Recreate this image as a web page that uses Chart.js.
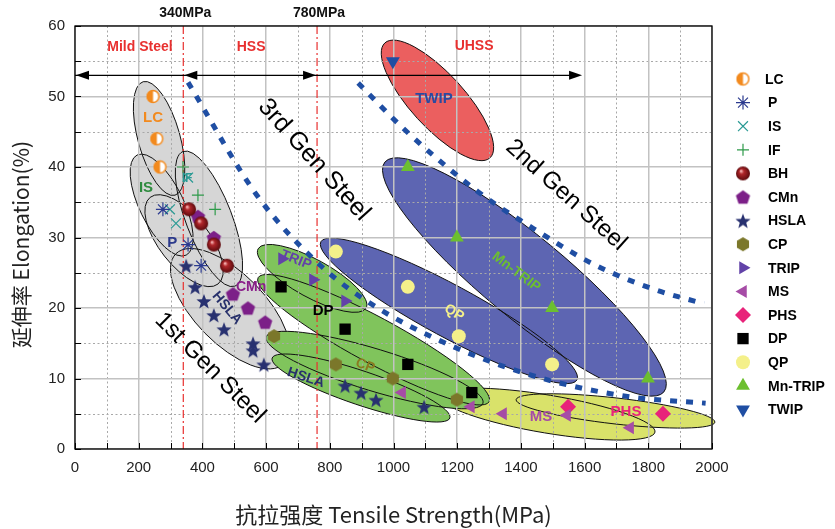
<!DOCTYPE html>
<html>
<head>
<meta charset="utf-8">
<script src="https://cdn.jsdelivr.net/npm/chart.js@4.4.0/dist/chart.umd.min.js"></script>
<style>
body{margin:0;background:#fff}
#wrap{width:835px;height:529px;position:relative}
</style>
</head>
<body>
<div id="wrap"><canvas id="c"></canvas></div>
<script>
// ---- data (MPa, %) ----
const lcX=[245,257,267],            lcY=[50,44,40];
const pX=[276,355,396],             pY=[34,29,26];
const isX=[298,317,355],            isY=[34,32,38.5];
const ifX=[339,386,440],            ifY=[40,36,34];
const bhX=[358,396,436,477],        bhY=[34,32,29,26];
const cmnX=[386,436,496,543,597],   cmnY=[33,30,22,20,18];
const hslaX=[349,377,405,436,468,559,559,593,848,898,945,1096];
const hslaY=[26,23,21,19,17,15,14,12,9,8,7,6];
const cpX=[625,819,998,1199],       cpY=[16,12,10,7];
const tripX=[650,747,848],          tripY=[27,24,21];
const msX=[1027,1243,1344,1545,1743], msY=[8,6,5,4.8,3];
const phsX=[1548,1846],             phsY=[6,5];
const dpX=[647,848,1045,1246],      dpY=[23,17,12,8];
const qpX=[819,1045,1205,1498],     qpY=[28,23,16,12];
const mntX=[1045,1199,1498,1799],   mntY=[40,30,20,10];
const twipX=[998],                  twipY=[55];

// boundary curves (blue dashed)
const gen3X=[355,571,769,936,1199,1460,1743,1980];
const gen3Y=[52,36,26.1,20.4,14.3,10.1,7.4,6.5];
const gen2X=[889,1042,1265,1438,1633,1821,1975];
const gen2Y=[51.9,45,36.5,31.3,26.1,22.6,20.6];

// class boundaries
const limitX=[340,760];
const limitLabels=['340MPa','780MPa'];

const pts=(xs,ys)=>xs.map((x,i)=>({x:x,y:ys[i]}));

// ---- property regions: major axis ends (data) + half width (px) ----
const GRAY='#d6d6d6', GREEN='#80c45c', BLUE='#5d65b2', RED='#eb5f5f', YEL='#d9e26a';
const regions=[
 [YEL,[[1146,7.5,1821,2.4,19],[1385,7.0,2009,3.8,13]]],
 [BLUE,[[772,29.4,1576,9.8,26],[973,40.7,1849,8.1,41]]],
 [RED,[[973,57.6,1303,41.3,27]]],
 [GRAY,[[214,52.1,314,36.0,21],[195,41.7,349,27.5,22],[236,35.7,449,23.4,25],[339,42.2,502,23.1,23],[317,27.7,656,12.1,35]]],
 [GREEN,[[575,28.4,914,20.0,19],[575,24.3,1300,6.7,23],[600,15.9,1281,6.5,21],[619,12.9,1177,4.4,17]]]
];

// ---- custom markers ----
function mk(r,draw){
 const s=Math.ceil(r*2+4), cv=document.createElement('canvas');
 cv.width=s; cv.height=s;
 draw(cv.getContext('2d'),s/2,s/2,r);
 return cv;
}
function poly(g,x,y,r,n,rot){
 g.beginPath();
 for(let i=0;i<n;i++){const a=rot+i*2*Math.PI/n; g.lineTo(x+r*Math.cos(a),y+r*Math.sin(a));}
 g.closePath();
}
const imgLC=mk(6.5,(g,x,y,r)=>{
 g.fillStyle='#fff'; g.beginPath(); g.arc(x,y,r,0,Math.PI*2); g.fill();
 g.fillStyle='#f28a1e'; g.beginPath(); g.arc(x,y,r,Math.PI/2,Math.PI*1.5); g.closePath(); g.fill();
 g.strokeStyle='#f28a1e'; g.lineWidth=1.5; g.beginPath(); g.arc(x,y,r-0.6,0,Math.PI*2); g.stroke();
});
const imgBH=mk(7,(g,x,y,r)=>{
 const gr=g.createRadialGradient(x-2,y-2.5,0.5,x,y,r);
 gr.addColorStop(0,'#f4b0b0'); gr.addColorStop(0.3,'#b0262a'); gr.addColorStop(1,'#5c0a0d');
 g.fillStyle=gr; g.beginPath(); g.arc(x,y,r,0,Math.PI*2); g.fill();
});
const imgCMn=mk(7.5,(g,x,y,r)=>{g.fillStyle='#7c1f88'; poly(g,x,y+0.8,r,5,-Math.PI/2); g.fill();});
const imgCP=mk(7,(g,x,y,r)=>{g.fillStyle='#7b772a'; poly(g,x,y,r,6,Math.PI/6); g.fill();});
const imgStar=mk(8,(g,x,y,r)=>{
 g.fillStyle='#283170'; g.beginPath();
 for(let i=0;i<10;i++){const a=-Math.PI/2+i*Math.PI/5, rr=i%2?r*0.42:r; g.lineTo(x+rr*Math.cos(a),y+1+rr*Math.sin(a));}
 g.closePath(); g.fill();
});

const scat=(label,xs,ys,o)=>Object.assign({label:label,data:pts(xs,ys),borderWidth:0,pointHoverRadius:7,order:0},o);
const datasets=[
 {type:'line',label:'_gen3',data:pts(gen3X,gen3Y),borderColor:'#1f4ea3',borderWidth:5,borderDash:[7,9],pointRadius:0,cubicInterpolationMode:'monotone',fill:false,order:10},
 {type:'line',label:'_gen2',data:pts(gen2X,gen2Y),borderColor:'#1f4ea3',borderWidth:5,borderDash:[7,9],pointRadius:0,cubicInterpolationMode:'monotone',fill:false,order:10},
 scat('LC',lcX,lcY,{pointStyle:imgLC,pointRadius:7}),
 scat('P',pX,pY,{pointStyle:'star',pointRadius:7,borderColor:'#2b3a8f',borderWidth:1.2}),
 scat('IS',isX,isY,{pointStyle:'crossRot',pointRadius:7,borderColor:'#2a9a94',borderWidth:1.2}),
 scat('IF',ifX,ifY,{pointStyle:'cross',pointRadius:6,borderColor:'#2e9a4a',borderWidth:1.2}),
 scat('BH',bhX,bhY,{pointStyle:imgBH,pointRadius:7}),
 scat('CMn',cmnX,cmnY,{pointStyle:imgCMn,pointRadius:7}),
 scat('HSLA',hslaX,hslaY,{pointStyle:imgStar,pointRadius:8}),
 scat('CP',cpX,cpY,{pointStyle:imgCP,pointRadius:7}),
 scat('TRIP',tripX,tripY,{pointStyle:'triangle',pointRotation:90,pointRadius:7.5,backgroundColor:'#6242a8'}),
 scat('MS',msX,msY,{pointStyle:'triangle',pointRotation:-90,pointRadius:7.5,backgroundColor:'#a64ca6'}),
 scat('PHS',phsX,phsY,{pointStyle:'rectRot',pointRadius:8,backgroundColor:'#e8237a'}),
 scat('DP',dpX,dpY,{pointStyle:'rect',pointRadius:8,backgroundColor:'#000'}),
 scat('QP',qpX,qpY,{pointStyle:'circle',pointRadius:7,backgroundColor:'#f4f08a'}),
 scat('Mn-TRIP',mntX,mntY,{pointStyle:'triangle',pointRadius:8,backgroundColor:'#6cbf2f'}),
 scat('TWIP',twipX,twipY,{pointStyle:'triangle',pointRotation:180,pointRadius:8,backgroundColor:'#1f4ea3'})
];

// text labels in data coordinates: text, x, y, size, colour, rotation, bold
const notes=[
 ['LC',245,47,15,'#f28a1e',0,1],['IS',223,37,15,'#2e8b3e',0,1],['IF',352,38.4,12,'#2a9a94',0,1],
 ['P',305,29.2,15,'#2c3a8c',0,1],['CMn',553,23,14,'#8a1f8a',0,1],['HSLA',477,20,14,'#27306b',50,1],
 ['TRIP',694,26.8,14,'#6242a8',22,1],['DP',779,19.6,15,'#000',0,1],['CP',911,11.8,14,'#8a7a20',20,1],
 ['HSLA',725,10.1,14,'#27306b',18,1],['QP',1190,19.3,14,'#f4f08a',32,1],['Mn-TRIP',1385,25.1,14,'#6cbf2f',37,1],
 ['TWIP',1127,49.6,15,'#2a4aa0',0,1],['MS',1463,4.5,15,'#a64ca6',0,1],['PHS',1730,5.2,15,'#e8237a',0,1],
 ['1st Gen Steel',424,11.5,24,'#000',45,0],['3rd Gen Steel',750,41,25,'#000',48,0],['2nd Gen Steel',1542,36,24,'#000',42,0],
 ['Mild Steel',204,57,14,'#e8302f',0,1],['HSS',553,57,14,'#e8302f',0,1],['UHSS',1253,57.1,14,'#e8302f',0,1]
];

function txt(ctx,s,x,y,font,color,rot){
 ctx.save(); ctx.translate(x,y); ctx.rotate((rot||0)*Math.PI/180);
 ctx.font=font; ctx.fillStyle=color; ctx.textAlign='center'; ctx.textBaseline='middle';
 ctx.fillText(s,0,0); ctx.restore();
}
function head(ctx,x,y,dir){
 ctx.beginPath(); ctx.moveTo(x,y); ctx.lineTo(x-dir*13,y-4.5); ctx.lineTo(x-dir*13,y+4.5); ctx.closePath(); ctx.fill();
}

const steelPlugin={
 id:'steel',
 beforeDraw(c){
  const ctx=c.ctx, a=c.chartArea, sx=c.scales.x, sy=c.scales.y;
  ctx.save();
  ctx.fillStyle='#fff'; ctx.fillRect(0,0,c.width,c.height);
  const path=r=>{
   const x1=sx.getPixelForValue(r[0]), y1=sy.getPixelForValue(r[1]);
   const x2=sx.getPixelForValue(r[2]), y2=sy.getPixelForValue(r[3]);
   ctx.beginPath();
   ctx.ellipse((x1+x2)/2,(y1+y2)/2,Math.hypot(x2-x1,y2-y1)/2,r[4],Math.atan2(y2-y1,x2-x1),0,Math.PI*2);
  };
  regions.forEach(([col,list])=>{
   ctx.fillStyle=col; list.forEach(r=>{path(r); ctx.fill();});
   ctx.strokeStyle='#111'; ctx.lineWidth=1; list.forEach(r=>{path(r); ctx.stroke();});
  });
  // minor dotted grid
  ctx.strokeStyle='#a8a8a8'; ctx.lineWidth=1; ctx.setLineDash([2,2.5]);
  for(let v=100;v<2000;v+=200){const x=Math.round(sx.getPixelForValue(v))+0.5; ctx.beginPath(); ctx.moveTo(x,a.top); ctx.lineTo(x,a.bottom); ctx.stroke();}
  for(let v=5;v<60;v+=10){const y=Math.round(sy.getPixelForValue(v))+0.5; ctx.beginPath(); ctx.moveTo(a.left,y); ctx.lineTo(a.right,y); ctx.stroke();}
  ctx.restore();
 },
 beforeDatasetsDraw(c){
  const ctx=c.ctx, a=c.chartArea, sx=c.scales.x, sy=c.scales.y;
  ctx.save();
  // class limits
  ctx.strokeStyle='#e8302f'; ctx.lineWidth=1.2; ctx.setLineDash([8,3,2,3]);
  limitX.forEach(v=>{const x=sx.getPixelForValue(v); ctx.beginPath(); ctx.moveTo(x,a.top); ctx.lineTo(x,a.bottom); ctx.stroke();});
  ctx.setLineDash([]);
  // class arrows
  const ya=sy.getPixelForValue(53), x0=sx.getPixelForValue(0), x1=sx.getPixelForValue(limitX[0]);
  const x2=sx.getPixelForValue(limitX[1]), x3=sx.getPixelForValue(1592);
  ctx.strokeStyle='#000'; ctx.fillStyle='#000'; ctx.lineWidth=1.1;
  ctx.beginPath(); ctx.moveTo(x0,ya); ctx.lineTo(x3-6,ya); ctx.stroke();
  head(ctx,x0+1,ya,-1); head(ctx,x1+1,ya,-1); head(ctx,x2-1,ya,1); head(ctx,x3,ya,1);
  ctx.restore();
 },
 afterDatasetsDraw(c){
  const ctx=c.ctx, a=c.chartArea, sx=c.scales.x, sy=c.scales.y;
  ctx.save();
  notes.forEach(n=>{
   txt(ctx,n[0],sx.getPixelForValue(n[1]),sy.getPixelForValue(n[2]),
       (n[6]?'bold ':'')+n[3]+'px "Liberation Sans", Arial, sans-serif',n[4],n[5]);
  });
  limitX.forEach((v,i)=>txt(ctx,limitLabels[i],sx.getPixelForValue(v)+2,a.top-13,'bold 14px "Liberation Sans", Arial, sans-serif','#111',0));
  // frame
  ctx.strokeStyle='#000'; ctx.lineWidth=1.3;
  ctx.strokeRect(a.left,a.top,a.right-a.left,a.bottom-a.top);
  // inward ticks
  ctx.lineWidth=1;
  for(let v=0;v<=2000;v+=100){const x=Math.round(sx.getPixelForValue(v))+0.5; ctx.beginPath(); ctx.moveTo(x,a.bottom); ctx.lineTo(x,a.bottom-6); ctx.stroke();}
  for(let v=0;v<=60;v+=5){const y=Math.round(sy.getPixelForValue(v))+0.5; ctx.beginPath(); ctx.moveTo(a.left,y); ctx.lineTo(a.left+6,y); ctx.stroke();}
  // axis titles
  txt(ctx,'抗拉强度 Tensile Strength(MPa)',(a.left+a.right)/2,515,'22px "Noto Sans CJK SC", sans-serif','#222',0);
  txt(ctx,'延伸率 Elongation(%)',21,(a.top+a.bottom)/2+7,'21px "Noto Sans CJK SC", sans-serif','#222',-90);
  // legend
  let k=0;
  c.data.datasets.forEach(d=>{
   if(d.type==='line') return;
   const y=79+k*23.6, x=743;
   ctx.fillStyle=d.backgroundColor||'#000'; ctx.strokeStyle=d.borderColor||'#000'; ctx.lineWidth=d.borderWidth||1;
   Chart.helpers.drawPoint(ctx,{pointStyle:d.pointStyle,rotation:d.pointRotation||0,radius:d.pointRadius,borderWidth:d.borderWidth||0},x,y);
   ctx.font='bold 14px "Liberation Sans", Arial, sans-serif'; ctx.fillStyle='#000';
   ctx.textAlign='left'; ctx.textBaseline='middle';
   ctx.fillText(d.label,k===0?765:768,y+1);
   k++;
  });
  ctx.restore();
 }
};

new Chart(document.getElementById('c'),{
 type:'scatter',
 data:{datasets:datasets},
 options:{
  responsive:true, maintainAspectRatio:false, animation:false,
  layout:{padding:{left:0,right:123,top:26,bottom:0}},
  plugins:{legend:{display:false},tooltip:{enabled:false}},
  scales:{
   x:{type:'linear',min:0,max:2000,
      afterFit(s){s.height=80;},
      ticks:{stepSize:100,autoSkip:false,maxRotation:0,padding:10,color:'#222',
             font:{family:'"Liberation Sans", Arial, sans-serif',size:15},
             callback:v=>v%200===0?v:''},
      grid:{color:ctx=>(ctx.tick&&ctx.tick.value%200===0)?'#c2c2c2':'rgba(0,0,0,0)',lineWidth:1.5,drawTicks:false},
      border:{display:false}},
   y:{type:'linear',min:0,max:60,
      afterFit(s){s.width=75;},
      ticks:{stepSize:5,autoSkip:false,padding:10,color:'#222',
             font:{family:'"Liberation Sans", Arial, sans-serif',size:15},
             callback:v=>v%10===0?v:''},
      grid:{color:ctx=>(ctx.tick&&ctx.tick.value%10===0)?'#c2c2c2':'rgba(0,0,0,0)',lineWidth:1.5,drawTicks:false},
      border:{display:false}}
  }
 },
 plugins:[steelPlugin]
});
</script>
</body>
</html>
